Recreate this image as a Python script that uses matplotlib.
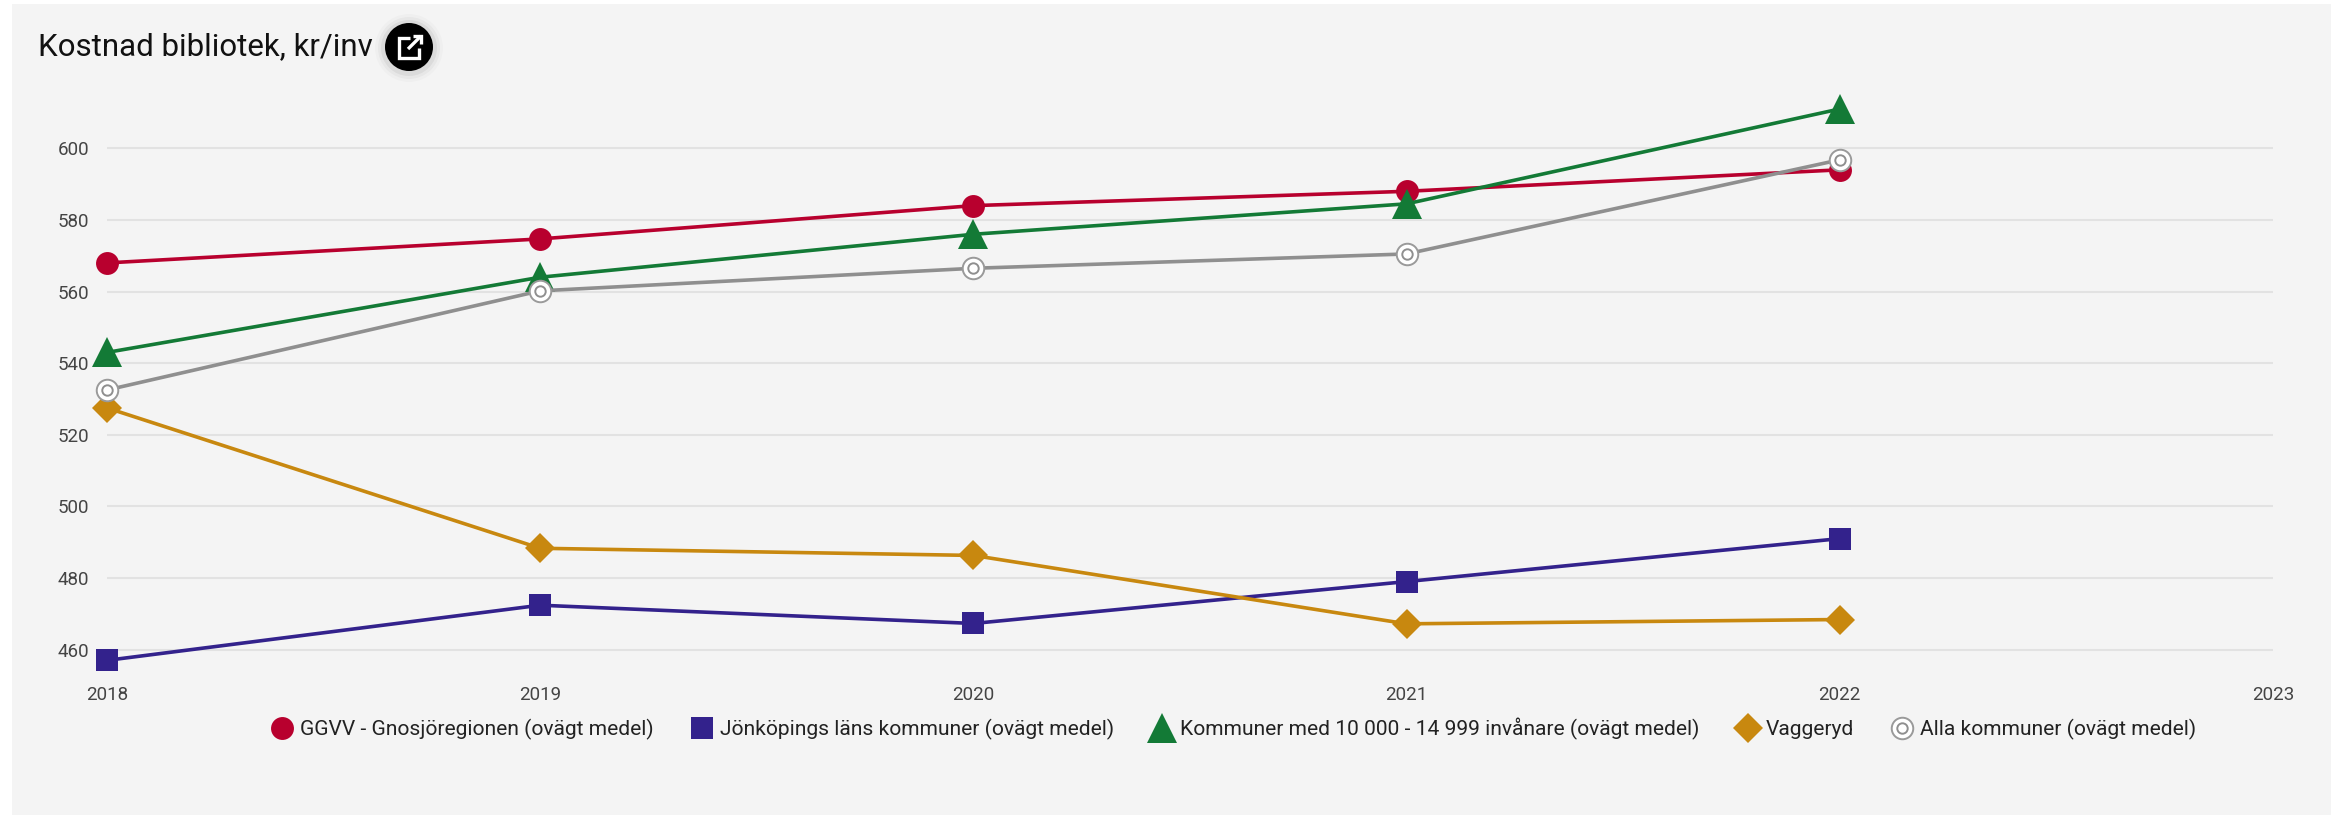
import matplotlib
matplotlib.use("Agg")
import matplotlib.pyplot as plt
from matplotlib.lines import Line2D
from matplotlib.patches import Rectangle, Circle
from matplotlib.legend_handler import HandlerTuple
from matplotlib.transforms import IdentityTransform

years = [2018, 2019, 2020, 2021, 2022]
ggvv = [568, 574.7, 584, 588, 594]
jonkoping = [457, 472.4, 467.3, 479, 491]
kommuner = [543, 564, 576, 584.5, 611]
vaggeryd = [527.5, 488.3, 486.3, 467.2, 468.4]
alla = [532.5, 560.2, 566.5, 570.5, 596.8]
y_ticks = [460, 480, 500, 520, 540, 560, 580, 600]
x_ticks = [2018, 2019, 2020, 2021, 2022, 2023]
title = "Kostnad bibliotek, kr/inv"
labels = ["GGVV - Gnosjöregionen (ovägt medel)", "Jönköpings läns kommuner (ovägt medel)",
          "Kommuner med 10 000 - 14 999 invånare (ovägt medel)", "Vaggeryd", "Alla kommuner (ovägt medel)"]

W, H = 2331, 815
plt.rcParams['font.family'] = ['Roboto', 'DejaVu Sans']
fig = plt.figure(figsize=(W/100, H/100), dpi=100, facecolor='white')
BG = '#f4f4f4'
fig.add_artist(Rectangle((12/W, 0), (W-12)/W, (H-4)/H, transform=fig.transFigure, fc=BG, ec='none', zorder=-5))

ax = fig.add_axes([107/W, (H-665)/H, (2273-107)/W, (665-100)/H])
ax.patch.set_alpha(0)
for s in ax.spines.values():
    s.set_visible(False)
ax.set_xlim(2018, 2023)
ax.set_ylim(455.7, 613.5)
ax.set_xticks(x_ticks)
ax.set_yticks(y_ticks)
ax.tick_params(axis='both', length=0, labelsize=13.5, labelcolor='#444444')
ax.tick_params(axis='x', pad=15)
ax.tick_params(axis='y', pad=13)
ax.grid(axis='y', color='#e2e2e2', lw=1.5)
ax.set_axisbelow(True)

lw = 2.6
common = dict(lw=lw, clip_on=False, mew=0)
h1, = ax.plot(years, ggvv, color='#b8002e', marker='o', ms=16.5, **common)
h2, = ax.plot(years, jonkoping, color='#33228c', marker='s', ms=16, **common)
h3, = ax.plot(years, kommuner, color='#137a36', marker='^', ms=21, **common)
h4, = ax.plot(years, vaggeryd, color='#c8880f', marker='D', ms=15, **common)
h5, = ax.plot(years, alla, color='#8f8f8f', marker='o', ms=15.5, mfc='white', mec='#9a9a9a', mew=1.4, lw=lw, clip_on=False)
h5b, = ax.plot(years, alla, ls='none', marker='o', ms=7.5, mfc='white', mec='#8f8f8f', mew=1.4, clip_on=False)

no_line = dict(ls='none')
handles = [Line2D([], [], color=h1.get_color(), marker='o', ms=16.5, mew=0, **no_line),
           Line2D([], [], color=h2.get_color(), marker='s', ms=16, mew=0, **no_line),
           Line2D([], [], color=h3.get_color(), marker='^', ms=21, mew=0, **no_line),
           Line2D([], [], color=h4.get_color(), marker='D', ms=15, mew=0, **no_line),
           (Line2D([], [], marker='o', ms=15.5, mfc='white', mec='#9a9a9a', mew=1.4, **no_line),
            Line2D([], [], marker='o', ms=7.5, mfc='white', mec='#8f8f8f', mew=1.4, **no_line))]
fig.legend(handles, labels, ncol=5, loc='center', bbox_to_anchor=(1234/W, (H-729)/H),
           frameon=False, fontsize=15.1, labelcolor='#222222', handlelength=1.0, handletextpad=0.35,
           columnspacing=1.8, handler_map={tuple: HandlerTuple(ndivide=1, pad=0)})

fig.text(38/W, (H-47)/H, title, fontsize=22.5, color='#111111', va='center', ha='left')

# external-link button beside the title
T = IdentityTransform()
cx, cy = 409, H-47
for r, a in [(34, .02), (31, .03), (28, .05)]:
    fig.add_artist(Circle((cx, cy-1), r, transform=T, fc='black', alpha=a, ec='none'))
fig.add_artist(Circle((cx, cy), 24, transform=T, fc='black', ec='none'))
ic = dict(transform=T, color='white', lw=2.4, solid_capstyle='butt', solid_joinstyle='miter')
fig.add_artist(Line2D([cx+1, cx-10, cx-10, cx+10, cx+10], [cy+9, cy+9, cy-11, cy-11, cy-1], **ic))
fig.add_artist(Line2D([cx-1, cx+12], [cy-2, cy+11], **ic))
fig.add_artist(Line2D([cx+4, cx+12, cx+12], [cy+11, cy+11, cy+3], **ic))

fig.savefig('out.png', dpi=100, facecolor='white')
